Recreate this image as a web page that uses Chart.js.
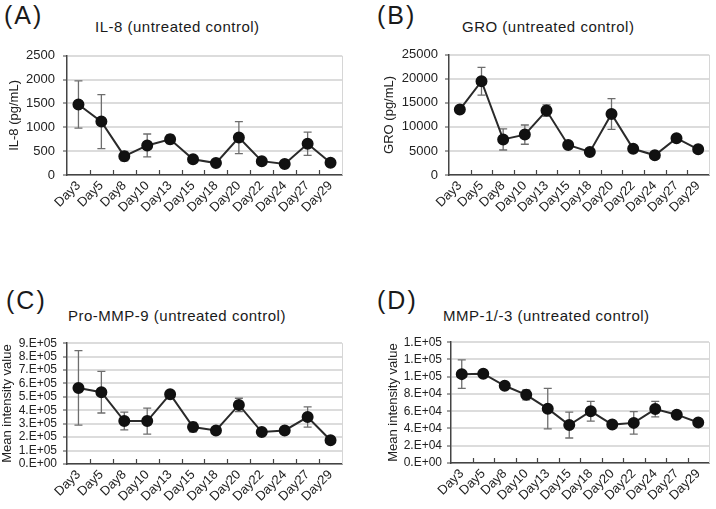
<!DOCTYPE html>
<html>
<head>
<meta charset="utf-8">
<script src="https://cdn.jsdelivr.net/npm/chart.js@4.4.1/dist/chart.umd.min.js"></script>
<style>
    body { margin: 0; background: #fff; width: 716px; height: 509px; position: relative; overflow: hidden;
           font-family: 'Liberation Sans', Arial, sans-serif; color: #1a1a1a; }
    .tag { position: absolute; font-size: 25px; letter-spacing: 2px; line-height: 1; }
    .ttl { position: absolute; font-size: 15px; letter-spacing: 0.5px; line-height: 1; white-space: nowrap; }
    canvas { position: absolute; }
</style>
</head>
<body>
<div class="tag" style="left:4px;top:3px">(A)</div>
<div class="tag" style="left:377px;top:3px">(B)</div>
<div class="tag" style="left:6px;top:288px">(C)</div>
<div class="tag" style="left:377px;top:288px">(D)</div>

<div class="ttl" style="left:95px;top:19px">IL-8 (untreated control)</div>
<div class="ttl" style="left:462px;top:19px">GRO (untreated control)</div>
<div class="ttl" style="left:68px;top:308px">Pro-MMP-9 (untreated control)</div>
<div class="ttl" style="left:443px;top:308px">MMP-1/-3 (untreated control)</div>

<canvas id="chartA" width="358" height="210" style="left:0;top:40px"></canvas>
<canvas id="chartB" width="358" height="210" style="left:358px;top:40px"></canvas>
<canvas id="chartC" width="358" height="179" style="left:0;top:330px"></canvas>
<canvas id="chartD" width="358" height="179" style="left:358px;top:330px"></canvas>

<script>
// Data
const days = ['Day3', 'Day5', 'Day8', 'Day10', 'Day13', 'Day15', 'Day18', 'Day20', 'Day22', 'Day24', 'Day27', 'Day29'];

const il8Mean = [1480, 1120, 395, 620, 750, 330, 250, 785, 290, 230, 655, 255];
const il8Err  = [495, 565, 100, 240, 90, 45, 30, 335, 40, 30, 245, 30];

const groMean = [13600, 19500, 7400, 8400, 13400, 6250, 4800, 12700, 5450, 4100, 7650, 5350];
const groErr  = [500, 2900, 2200, 2000, 1200, 400, 300, 3200, 400, 300, 400, 400];

const proMean = [567000, 535000, 320000, 320000, 520000, 275000, 250000, 440000, 238000, 250000, 350000, 177000];
const proErr  = [277000, 155000, 66000, 97000, 12000, 35000, 10000, 50000, 20000, 15000, 75000, 15000];
const proTicks = ['0.E+00', '1.E+05', '2.E+05', '3.E+05', '4.E+05', '5.E+05', '6.E+05', '7.E+05', '8.E+05', '9.E+05'];

const mmpMean = [103000, 103500, 89500, 79000, 63000, 44000, 60000, 44500, 46500, 62500, 56000, 47000];
const mmpErr  = [16500, 1000, 2500, 5800, 23500, 15000, 11500, 1000, 13000, 9000, 1500, 1500];
const mmpTicks = ['0.E+00', '2.E+04', '4.E+04', '6.E+04', '8.E+04', '1.E+05', '1.E+05', '1.E+05'];

Chart.defaults.font.family = "'Liberation Sans', Arial, sans-serif";
Chart.defaults.color = '#1a1a1a';

// error bars under the points
const errorBars = {
    id: 'errorBars',
    beforeDatasetsDraw(chart) {
        const ctx = chart.ctx;
        const y = chart.scales.y;
        chart.data.datasets.forEach((ds, di) => {
            chart.getDatasetMeta(di).data.forEach((pt, i) => {
                const v = ds.data[i], e = ds.errors[i];
                const top = y.getPixelForValue(v + e);
                const bot = y.getPixelForValue(v - e);
                ctx.save();
                ctx.strokeStyle = '#6e6e6e';
                ctx.lineWidth = 1.3;
                ctx.beginPath();
                ctx.moveTo(pt.x, top); ctx.lineTo(pt.x, bot);
                ctx.moveTo(pt.x - 4, top); ctx.lineTo(pt.x + 4, top);
                ctx.moveTo(pt.x - 4, bot); ctx.lineTo(pt.x + 4, bot);
                ctx.stroke();
                ctx.restore();
            });
        });
    }
};

// right edge of plot and inward tick marks on the category axis
const frame = {
    id: 'frame',
    afterDraw(chart) {
        const ctx = chart.ctx, a = chart.chartArea, x = chart.scales.x;
        const n = x.ticks.length;
        const w = (a.right - a.left) / n;
        ctx.save();
        ctx.strokeStyle = '#d6d6d6';
        ctx.lineWidth = 1;
        ctx.beginPath();
        ctx.moveTo(a.right + 0.5, a.top); ctx.lineTo(a.right + 0.5, a.bottom);
        ctx.stroke();
        ctx.strokeStyle = '#444';
        ctx.lineWidth = 1.2;
        ctx.beginPath();
        for (let i = 1; i < n; i++) {
            const px = Math.round(x.getPixelForValue(i) - w / 2) + 0.5;
            ctx.moveTo(px, a.bottom); ctx.lineTo(px, a.bottom - 5);
        }
        ctx.stroke();
        ctx.restore();
    }
};

function makeChart(id, o) {
    return new Chart(document.getElementById(id), {
        type: 'line',
        data: {
            labels: days,
            datasets: [{
                data: o.mean,
                errors: o.err,
                borderColor: '#2a2a2a',
                borderWidth: 2,
                pointRadius: 5,
                pointBackgroundColor: '#111',
                pointBorderColor: '#111',
                tension: 0
            }]
        },
        options: {
            responsive: false,
            animation: false,
            devicePixelRatio: 1,
            layout: { padding: o.pad },
            plugins: { legend: { display: false }, tooltip: { enabled: false } },
            scales: {
                x: {
                    offset: true,
                    grid: { drawOnChartArea: false, drawTicks: false },
                    border: { color: '#444', width: 1.5 },
                    ticks: { minRotation: 45, maxRotation: 45, autoSkip: false, padding: 3, font: { size: 13 }, color: '#222' },
                    afterFit: s => { s.height = o.xHeight; }
                },
                y: {
                    min: 0,
                    max: o.max,
                    grid: { color: '#dcdcdc', lineWidth: 2, tickLength: 4, tickColor: '#444', tickWidth: 1 },
                    border: { color: '#444', width: 1.5 },
                    ticks: {
                        stepSize: o.step,
                        autoSkip: false,
                        padding: o.tickPad,
                        font: { size: o.tickSize },
                        color: '#222',
                        callback: o.labels ? (v, i) => o.labels[i] : v => String(v)
                    },
                    title: { display: true, text: o.title, font: { size: 13 }, color: '#222', padding: { top: o.titlePad, bottom: 0 } },
                    afterFit: s => { s.width = o.yWidth; }
                }
            }
        },
        plugins: [errorBars, frame]
    });
}

makeChart('chartA', {
    mean: il8Mean, err: il8Err, max: 2500, step: 500, title: 'IL-8 (pg/mL)',
    pad: { top: 13, right: 16, left: 0, bottom: 0 }, yWidth: 67, xHeight: 75,
    tickPad: 8, tickSize: 13, titlePad: 7
});
makeChart('chartB', {
    mean: groMean, err: groErr, max: 25000, step: 5000, title: 'GRO (pg/mL)',
    pad: { top: 12, right: 4, left: 0, bottom: 0 }, yWidth: 91, xHeight: 75,
    tickPad: 7, tickSize: 13, titlePad: 24
});
makeChart('chartC', {
    mean: proMean, err: proErr, max: 900000, step: 100000, title: 'Mean intensity value', labels: proTicks,
    pad: { top: 12, right: 16, left: 0, bottom: 0 }, yWidth: 67, xHeight: 45,
    tickPad: 6, tickSize: 12, titlePad: 0
});
makeChart('chartD', {
    mean: mmpMean, err: mmpErr, max: 140000, step: 20000, title: 'Mean intensity value', labels: mmpTicks,
    pad: { top: 12, right: 5, left: 0, bottom: 0 }, yWidth: 93, xHeight: 46,
    tickPad: 5, tickSize: 12, titlePad: 28
});
</script>
</body>
</html>
